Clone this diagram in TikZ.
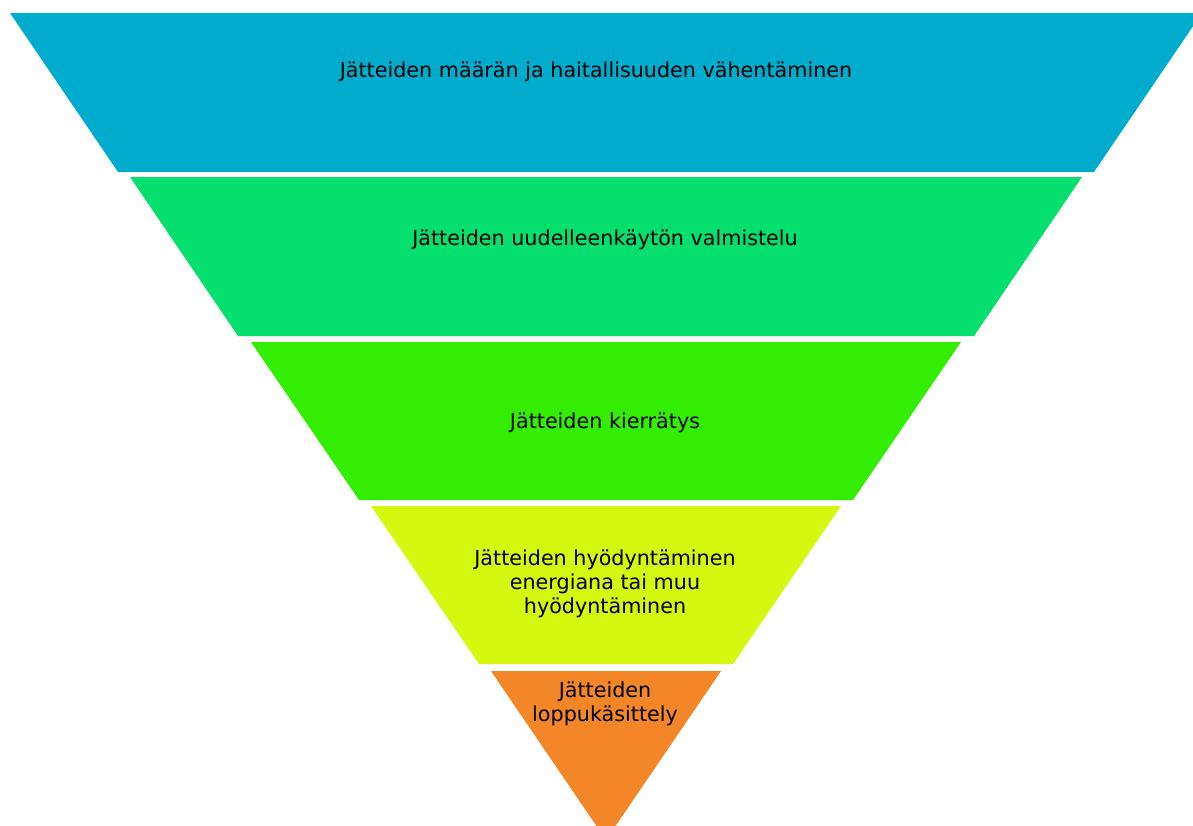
\documentclass[tikz,border=0pt]{standalone}
\usepackage{fontspec}
\setmainfont{DejaVu Sans}
\definecolor{c1}{HTML}{00ACCD}
\definecolor{c2}{HTML}{05DF6D}
\definecolor{c3}{HTML}{33EE03}
\definecolor{c4}{HTML}{D5F811}
\definecolor{c5}{HTML}{F38626}
\begin{document}
\begin{tikzpicture}[x=1pt,y=-1pt,
  lbl/.style={font=\fontsize{20.7}{24}\selectfont, text=black, inner sep=0pt, align=center}]
\useasboundingbox (0,0) rectangle (1193,825);
\clip (0,0) rectangle (1193,825);
\fill[c1] (10,13) -- (1202,13) -- (1094,172) -- (118,172) -- cycle;
\fill[c2] (130,177) -- (1082,177) -- (974,336) -- (238,336) -- cycle;
\fill[c3] (251,342) -- (961,342) -- (853,500) -- (359,500) -- cycle;
\fill[c4] (371,506) -- (841,506) -- (733,664) -- (479,664) -- cycle;
\fill[c5] (491,671) -- (721,671) -- (606,840) -- cycle;
\node[lbl, anchor=base] (t1) at (596,77) {Jätteiden määrän ja haitallisuuden vähentäminen};
\node[lbl, anchor=base] (t2) at (605,245) {Jätteiden uudelleenkäytön valmistelu};
\node[lbl, anchor=base] (t3) at (605,428) {Jätteiden kierrätys};
\node[lbl] (t4) at (605,584) {Jätteiden hyödyntäminen\\energiana tai muu\\hyödyntäminen};
\node[lbl] (t5) at (605,704) {Jätteiden\\loppukäsittely};
\end{tikzpicture}
\end{document}
